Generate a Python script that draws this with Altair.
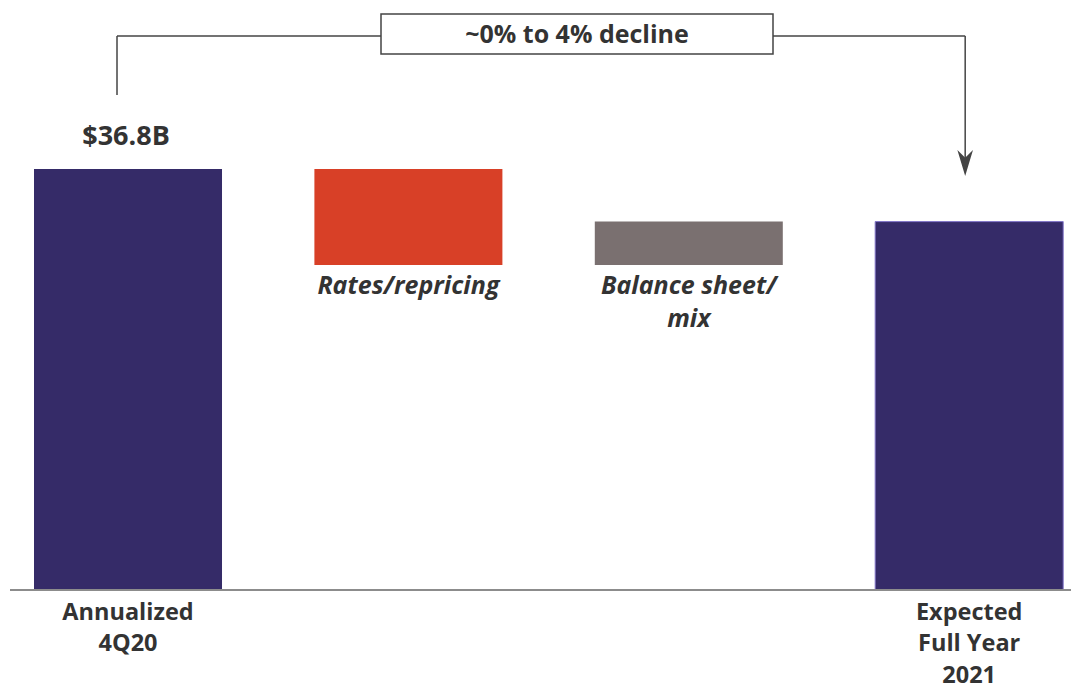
import altair as alt
import pandas as pd

# ---- data ----
categories = ["Annualized 4Q20", "Rates/repricing", "Balance sheet/mix", "Expected Full Year 2021"]
amounts = [36.8, -8.4, 3.8, 32.2]          # $B (totals and changes)
kinds = ["total", "delta", "delta", "total"]
bar_colors = ["#352B68", "#D84027", "#7A7070", "#352B68"]
axis_lines = [["Annualized", "4Q20"], [], [], ["Expected", "Full Year", "2021"]]
inner_lines = [[], ["Rates/repricing"], ["Balance sheet/", "mix"], []]
value_labels = ["$36.8B", "", "", ""]
bracket_text = "~0% to 4% decline"

rows = []
running = 0.0
for c, a, k, col, al, il, vl in zip(categories, amounts, kinds, bar_colors,
                                    axis_lines, inner_lines, value_labels):
    if k == "total":
        lo, hi = 0.0, a
        running = a
    else:
        lo, hi = running, running + a
        running = running + a
    rows.append(dict(cat=c, lo=min(lo, hi), hi=max(lo, hi), color=col,
                     axis_lines=al, inner_lines=il, value_label=vl, kind=k))
df = pd.DataFrame(rows)

FONT = "Open Sans"
TXT = "#333333"

xscale = alt.Scale(domain=categories, paddingInner=0.3295, paddingOuter=0.0603, align=0.769)
yscale = alt.Scale(domain=[-8.566, 50.87], nice=False, zero=False)
X = alt.X("cat:N", scale=xscale, axis=None, sort=categories)

base = alt.Chart(df)

bars = base.mark_bar(strokeWidth=1).encode(
    x=X,
    y=alt.Y("lo:Q", scale=yscale, axis=None),
    y2="hi:Q",
    color=alt.Color("color:N", scale=None),
    stroke=alt.condition(alt.datum.cat == categories[3], alt.value("#8275C9"), alt.value(None)),
)

baseline = alt.Chart(pd.DataFrame({"v": [0]})).mark_rule(color="#8C8C8C", strokeWidth=2).encode(
    y=alt.Y("v:Q", scale=yscale, axis=None),
    x=alt.value(2), x2=alt.value(1071),
)

value_text = base.transform_filter(alt.datum.value_label != "").mark_text(
    font=FONT, fontWeight="bold", fontSize=27, color=TXT, baseline="middle", dy=-32, dx=-2
).encode(x=X, y=alt.Y("hi:Q", scale=yscale), text="value_label:N")

inner_text = base.transform_filter(alt.datum.kind == "delta").mark_text(
    font=FONT, fontWeight="bold", fontStyle="italic", fontSize=25, color=TXT,
    baseline="top", dy=9, lineHeight=33
).encode(x=X, y=alt.Y("lo:Q", scale=yscale), text="inner_lines")

axis_text = base.transform_filter(alt.datum.kind == "total").mark_text(
    font=FONT, fontWeight="bold", fontSize=23.5, color=TXT,
    baseline="alphabetic", dy=30, lineHeight=31.5
).encode(x=X, y=alt.Y("lo:Q", scale=yscale), text="axis_lines")

# ---- bracket annotation ----
br = pd.DataFrame({"a": [categories[0]], "b": [categories[3]]})
LINE = "#444444"
left_v = alt.Chart(br).mark_rule(color=LINE, strokeWidth=1.5, xOffset=-11).encode(
    x=alt.X("a:N", scale=xscale, axis=None), y=alt.value(87), y2=alt.value(28))
horiz = alt.Chart(br).mark_rule(color=LINE, strokeWidth=1.5, xOffset=-11, x2Offset=-4).encode(
    x=alt.X("a:N", scale=xscale, axis=None), x2="b:N", y=alt.value(28))
right_v = alt.Chart(br).mark_rule(color=LINE, strokeWidth=1.5, xOffset=-4).encode(
    x=alt.X("b:N", scale=xscale, axis=None), y=alt.value(28), y2=alt.value(158))
arrow = alt.Chart(br).mark_point(
    shape="M0,1 L-0.6,-1 L0,-0.4 L0.6,-1 Z", filled=True, size=676, color=LINE, opacity=1, xOffset=-4
).encode(x=alt.X("b:N", scale=xscale, axis=None), y=alt.value(155))

box = alt.Chart(pd.DataFrame({"t": [bracket_text]})).mark_rect(
    fill="white", stroke=LINE, strokeWidth=1.5
).encode(x=alt.value(373), x2=alt.value(765), y=alt.value(6), y2=alt.value(46))
box_text = alt.Chart(pd.DataFrame({"t": [bracket_text]})).mark_text(
    font=FONT, fontWeight="bold", fontSize=25, color=TXT, baseline="middle"
).encode(x=alt.value(569), y=alt.value(27), text="t:N")

chart = alt.layer(
    bars, baseline, value_text, inner_text, axis_text,
    left_v, horiz, right_v, arrow, box, box_text
).properties(
    width=1063, height=680, padding=0, autosize=alt.AutoSizeParams(type="none")
).configure_view(stroke=None)

chart.save("out.html", embed_options={"renderer": "svg", "actions": False})
